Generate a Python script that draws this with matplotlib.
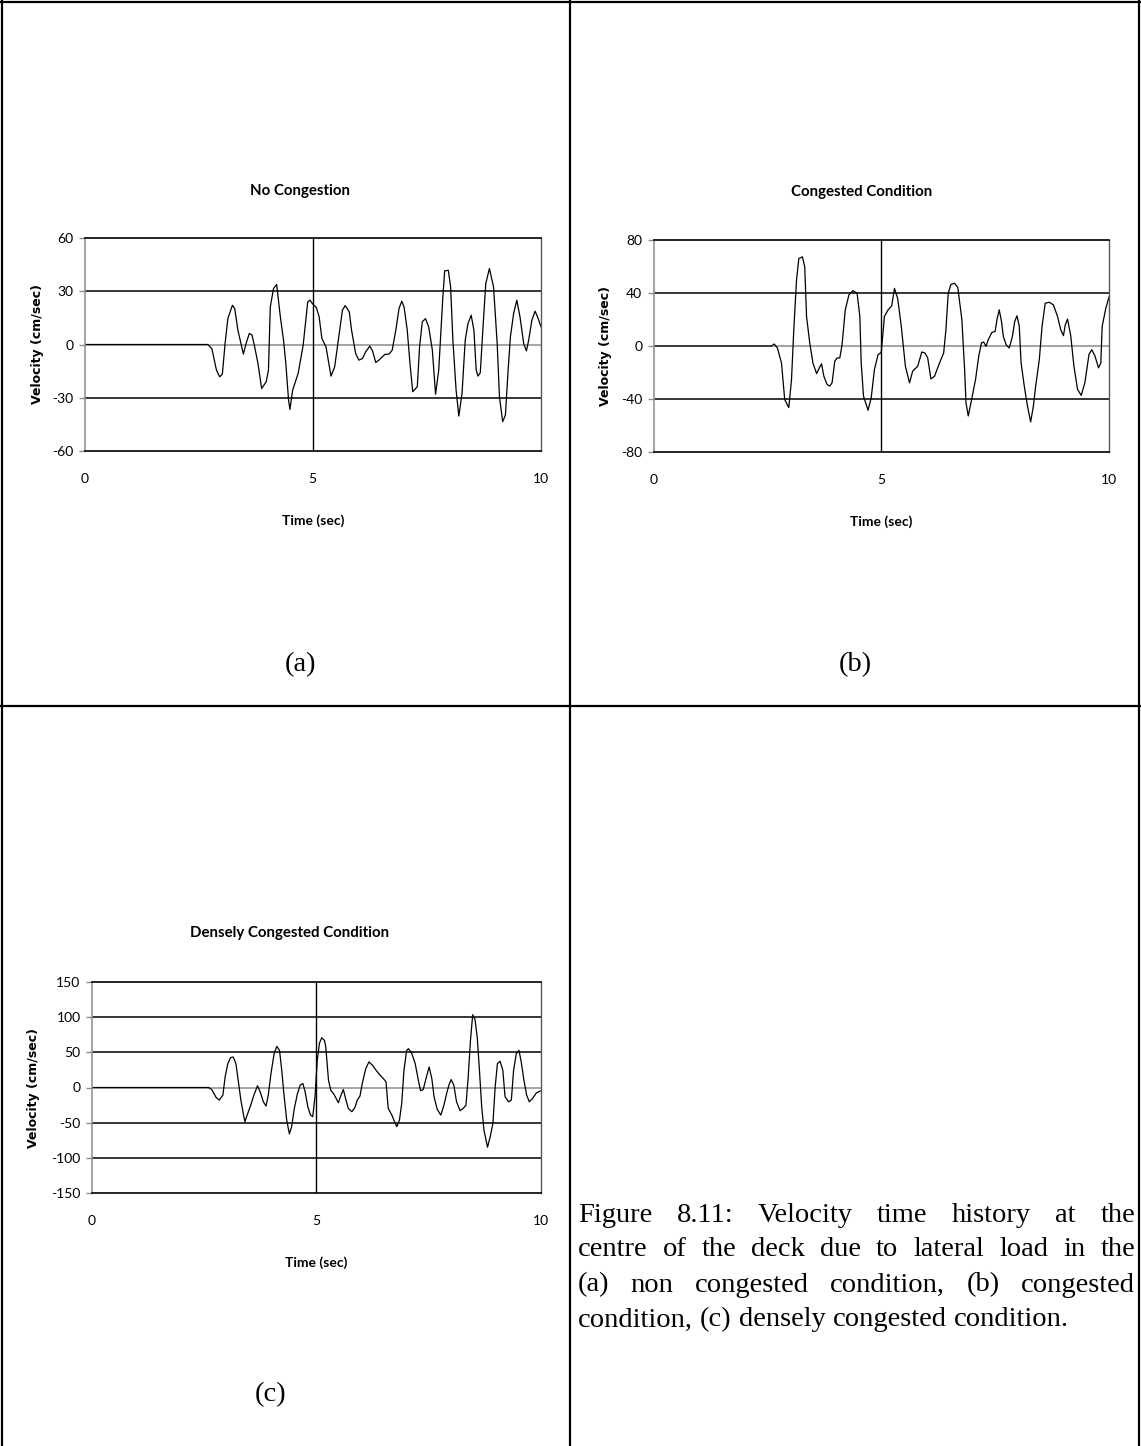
import matplotlib
matplotlib.use("Agg")
import matplotlib.pyplot as plt
from matplotlib.lines import Line2D

plt.rcParams["axes.unicode_minus"] = False

W, H = 1141, 1446

# ---- data: velocity time histories (time in s, velocity in cm/s) ----
t_a = [0.0, 2.70, 2.79, 2.89, 2.96, 3.02, 3.08, 3.14, 3.24, 3.29, 3.36, 3.48, 3.54, 3.61,
       3.67, 3.72, 3.80, 3.88, 3.98, 4.03, 4.07, 4.14, 4.21, 4.29, 4.36, 4.41, 4.47, 4.50,
       4.56, 4.68, 4.79, 4.89, 4.94, 4.99, 5.08, 5.14, 5.20, 5.29, 5.40, 5.48, 5.58, 5.65,
       5.71, 5.80, 5.85, 5.94, 6.01, 6.09, 6.16, 6.25, 6.31, 6.38, 6.45, 6.58, 6.67, 6.74,
       6.82, 6.89, 6.95, 7.00, 7.07, 7.13, 7.19, 7.29, 7.34, 7.40, 7.47, 7.54, 7.62, 7.69,
       7.76, 7.85, 7.89, 7.97, 8.02, 8.07, 8.14, 8.20, 8.27, 8.34, 8.40, 8.47, 8.53, 8.58,
       8.62, 8.67, 8.73, 8.79, 8.87, 8.96, 9.04, 9.09, 9.16, 9.22, 9.28, 9.33, 9.40, 9.47,
       9.54, 9.62, 9.68, 9.73, 9.80, 9.87, 9.93, 10.0]
v_a = [0.0, 0.0, -2.3, -14.4, -18.2, -16.7, 0.6, 14.6, 22.1, 20.3, 8.1, -5.4, 0.6, 6.2,
       5.3, -0.4, -10.7, -24.8, -21.0, -14.4, 21.2, 31.5, 33.8, 15.6, 2.4, -10.7, -31.3, -36.6,
       -25.7, -16.3, -0.4, 24.0, 25.0, 23.1, 20.8, 15.6, 3.4, -1.3, -17.8, -12.6, 6.2, 19.3,
       21.9, 18.4, 8.1, -5.1, -8.8, -7.9, -4.1, -0.9, -3.6, -10.1, -8.8, -5.6, -5.4, -3.2,
       8.1, 20.3, 24.4, 21.2, 8.1, -10.7, -26.6, -23.8, -1.3, 12.8, 14.6, 9.9, -3.2, -28.0,
       -14.4, 26.8, 41.5, 41.8, 32.5, 2.4, -25.7, -40.3, -27.6, 2.4, 11.8, 16.5, 8.1, -14.4,
       -17.8, -15.9, 9.9, 34.3, 42.8, 32.5, 0.6, -29.5, -43.5, -39.8, -14.4, 4.3, 17.4, 25.0,
       15.6, 0.6, -3.6, 2.4, 13.7, 18.8, 15.2, 10.0]

t_b = [0.0, 2.59, 2.65, 2.72, 2.81, 2.88, 2.97, 3.03, 3.08, 3.14, 3.19, 3.27, 3.32, 3.36,
       3.43, 3.50, 3.58, 3.64, 3.69, 3.74, 3.81, 3.87, 3.92, 3.98, 4.03, 4.09, 4.14, 4.21,
       4.29, 4.38, 4.47, 4.53, 4.56, 4.61, 4.71, 4.78, 4.85, 4.93, 5.00, 5.07, 5.15, 5.23,
       5.29, 5.36, 5.44, 5.53, 5.62, 5.69, 5.80, 5.89, 5.96, 6.02, 6.09, 6.17, 6.28, 6.37,
       6.42, 6.47, 6.53, 6.61, 6.68, 6.77, 6.83, 6.86, 6.91, 6.97, 7.07, 7.14, 7.20, 7.25,
       7.30, 7.35, 7.43, 7.50, 7.54, 7.59, 7.64, 7.68, 7.74, 7.81, 7.88, 7.93, 7.98, 8.03,
       8.07, 8.14, 8.21, 8.28, 8.34, 8.39, 8.47, 8.53, 8.60, 8.69, 8.78, 8.87, 8.94, 9.00,
       9.04, 9.09, 9.16, 9.23, 9.31, 9.39, 9.47, 9.56, 9.62, 9.69, 9.77, 9.82, 9.85, 9.93,
       10.0]
v_b = [0.0, 0.0, 1.5, -1.5, -12.8, -40.3, -46.5, -25.3, 12.3, 49.8, 66.0, 67.3, 59.8, 22.3,
       2.3, -12.8, -20.8, -16.5, -13.5, -22.8, -29.0, -30.3, -27.8, -11.5, -9.0, -9.0, 1.0, 27.3,
       38.5, 41.8, 39.8, 22.3, -12.8, -37.8, -48.5, -39.0, -17.8, -6.5, -4.8, 22.3, 27.3, 30.3,
       43.5, 36.0, 14.8, -15.3, -27.8, -19.0, -15.3, -4.5, -5.3, -9.0, -24.8, -22.8, -12.8, -5.3,
       12.3, 39.8, 46.5, 47.3, 44.3, 19.8, -17.8, -42.8, -52.8, -42.8, -25.3, -7.8, 2.3, 3.0,
       -0.3, 4.8, 10.3, 11.0, 19.8, 27.3, 18.5, 7.3, 1.0, -1.5, 7.3, 18.5, 22.8, 14.8,
       -12.8, -30.3, -45.3, -57.3, -45.3, -30.3, -10.3, 14.8, 32.3, 33.0, 31.0, 22.3, 12.3, 7.8,
       16.0, 20.3, 7.8, -15.3, -32.8, -37.3, -27.8, -6.5, -2.8, -7.3, -16.5, -12.8, 14.8, 28.5,
       37.0]

t_c = [0.0, 2.60, 2.67, 2.77, 2.84, 2.92, 2.97, 3.03, 3.09, 3.15, 3.21, 3.26, 3.32, 3.38,
       3.41, 3.46, 3.54, 3.61, 3.69, 3.75, 3.82, 3.88, 3.93, 3.99, 4.06, 4.12, 4.18, 4.23,
       4.28, 4.34, 4.40, 4.45, 4.51, 4.58, 4.64, 4.70, 4.75, 4.81, 4.87, 4.92, 4.97, 5.02,
       5.07, 5.12, 5.18, 5.21, 5.27, 5.32, 5.38, 5.43, 5.49, 5.54, 5.60, 5.65, 5.71, 5.79,
       5.86, 5.91, 5.97, 6.03, 6.10, 6.17, 6.25, 6.34, 6.42, 6.51, 6.55, 6.60, 6.68, 6.74,
       6.79, 6.85, 6.90, 6.95, 7.01, 7.05, 7.12, 7.20, 7.27, 7.32, 7.38, 7.44, 7.51, 7.57,
       7.62, 7.69, 7.77, 7.84, 7.90, 7.95, 8.00, 8.06, 8.12, 8.20, 8.27, 8.33, 8.38, 8.43,
       8.48, 8.53, 8.58, 8.63, 8.68, 8.73, 8.81, 8.87, 8.93, 8.98, 9.03, 9.09, 9.15, 9.20,
       9.28, 9.34, 9.39, 9.45, 9.51, 9.56, 9.62, 9.68, 9.74, 9.81, 9.90, 10.0]
v_c = [0.0, 0.0, -2.8, -14.2, -17.9, -10.8, 15.1, 34.0, 42.5, 43.4, 34.0, 10.4, -17.9, -39.2,
       -48.6, -39.2, -25.0, -10.8, 2.4, -6.1, -20.3, -26.4, -10.8, 19.8, 48.1, 58.5, 52.8, 24.5,
       -10.8, -46.2, -66.0, -55.7, -29.7, -8.5, 3.3, 5.7, -6.1, -27.4, -39.2, -41.5, -13.2, 38.7,
       63.2, 70.8, 67.0, 57.5, 10.4, -3.8, -8.5, -14.2, -21.7, -12.3, -2.8, -15.6, -29.7, -34.4,
       -28.3, -17.9, -12.3, 8.0, 26.9, 36.3, 31.6, 23.6, 17.5, 11.3, 8.0, -29.7, -39.2, -48.6,
       -55.7, -46.2, -22.6, 24.5, 52.8, 55.2, 49.1, 34.0, 10.4, -4.7, -2.8, 12.7, 29.2, 12.7,
       -13.2, -31.1, -39.2, -25.0, -8.5, 3.3, 11.3, 3.3, -20.3, -33.0, -29.7, -25.0, 15.1, 67.0,
       103.5, 97.0, 72.0, 24.5, -27.4, -60.4, -84.9, -69.8, -50.9, 0.9, 34.0, 37.3, 24.5, -13.2,
       -20.3, -17.9, 24.5, 48.1, 52.8, 36.3, 10.4, -10.8, -20.3, -15.6, -7.5, -4.7]

x_ticks = [0, 5, 10]
y_ticks_a = [-60, -30, 0, 30, 60]
y_ticks_b = [-80, -40, 0, 40, 80]
y_ticks_c = [-150, -100, -50, 0, 50, 100, 150]

titles = ["No Congestion", "Congested Condition", "Densely Congested Condition"]
panel_tags = ["(a)", "(b)", "(c)"]
caption_lines = [
    "Figure 8.11: Velocity time history at the",
    "centre of the deck due to lateral load in the",
    "(a) non congested condition, (b) congested",
    "condition, (c) densely congested condition.",
]

NARROW = ["Lato", "DejaVu Sans"]
SERIF = ["Liberation Serif", "DejaVu Serif"]

fig = plt.figure(figsize=(W / 100, H / 100), dpi=100)
fig.patch.set_facecolor("white")


def px_axes(left, top, right, bottom):
    return fig.add_axes([left / W, 1 - bottom / H, (right - left) / W, (bottom - top) / H])


def fx(x):
    return x / W


def fy(y):
    return 1 - y / H


def velocity_panel(box, t, v, yticks, title, title_xy, ylab_x, xlab_y):
    ax = px_axes(*box)
    ax.plot(t, v, color="black", lw=0.9, solid_joinstyle="round")
    ax.set_xlim(0, 10)
    ax.set_ylim(yticks[0], yticks[-1])
    ax.set_xticks(x_ticks)
    ax.set_yticks(yticks)
    for y in yticks[1:-1]:
        ax.axhline(y, color="#8c8c8c" if y == 0 else "black", lw=1.1, zorder=1)
    ax.axvline(5, color="black", lw=1.0, zorder=1)
    for side in ("top", "bottom"):
        ax.spines[side].set_color("black")
        ax.spines[side].set_linewidth(1.2)
    ax.spines["left"].set_color("#8c8c8c")
    ax.spines["left"].set_linewidth(1.1)
    ax.spines["right"].set_color("#5a5a5a")
    ax.spines["right"].set_linewidth(1.0)
    ax.tick_params(axis="y", length=4, width=1.0, color="#8c8c8c", pad=4,
                   labelsize=10)
    ax.tick_params(axis="x", length=0, pad=16, labelsize=10)
    for lab in ax.get_xticklabels() + ax.get_yticklabels():
        lab.set_family(NARROW)
    fig.text(fx(title_xy[0]), fy(title_xy[1]), title, ha="center", va="center",
             fontsize=10.8, fontweight="bold", family=NARROW)
    fig.text(fx(ylab_x), fy((box[1] + box[3]) / 2), "Velocity (cm/sec)", rotation=90,
             ha="center", va="center", fontsize=9, fontweight="bold",
             family=["DejaVu Sans"])
    fig.text(fx((box[0] + box[2]) / 2), fy(xlab_y), "Time (sec)", ha="center",
             va="center", fontsize=10, fontweight="bold", family=NARROW)
    return ax


velocity_panel((84.5, 238, 541, 451), t_a, v_a, y_ticks_a, titles[0], (300, 191), 37, 521)
velocity_panel((653.5, 240, 1109, 452), t_b, v_b, y_ticks_b, titles[1], (862, 192), 606, 522)
velocity_panel((91.7, 982, 541, 1193), t_c, v_c, y_ticks_c, titles[2], (290, 933), 34, 1263)

tag_fs = 20.5
fig.text(fx(300), fy(665), panel_tags[0], ha="center", va="center", fontsize=tag_fs, family=SERIF)
fig.text(fx(855), fy(665), panel_tags[1], ha="center", va="center", fontsize=tag_fs, family=SERIF)
fig.text(fx(271), fy(1395), panel_tags[2], ha="center", va="center", fontsize=tag_fs, family=SERIF)

# table rules around the panels
for (x0, y0, x1, y1) in [(2, 1, 2, H), (1139, 1, 1139, H), (570, 1, 570, H),
                         (1, 2, 1140, 2), (1, 706, 1140, 706)]:
    fig.add_artist(Line2D([fx(x0), fx(x1)], [fy(y0), fy(y1)], color="black", lw=1.6,
                          transform=fig.transFigure))

# justified caption in the lower-right cell
renderer = fig.canvas.get_renderer()
cap_left, cap_right = 578, 1135
cap_y = [1215, 1250, 1285, 1320]
for i, (line, y) in enumerate(zip(caption_lines, cap_y)):
    words = line.split()
    texts = [fig.text(0, fy(y), w, ha="left", va="center", fontsize=tag_fs, family=SERIF)
             for w in words]
    widths = [tx.get_window_extent(renderer).width for tx in texts]
    if i == len(caption_lines) - 1:
        sp = fig.text(0, 0, "a a", fontsize=tag_fs, family=SERIF)
        sa = fig.text(0, 0, "aa", fontsize=tag_fs, family=SERIF)
        gap = sp.get_window_extent(renderer).width - sa.get_window_extent(renderer).width
        sp.remove()
        sa.remove()
    else:
        gap = (cap_right - cap_left - sum(widths)) / (len(words) - 1)
    x = cap_left
    for tx, w in zip(texts, widths):
        tx.set_x(fx(x))
        x += w + gap

fig.savefig("out.png", dpi=100, facecolor="white")
